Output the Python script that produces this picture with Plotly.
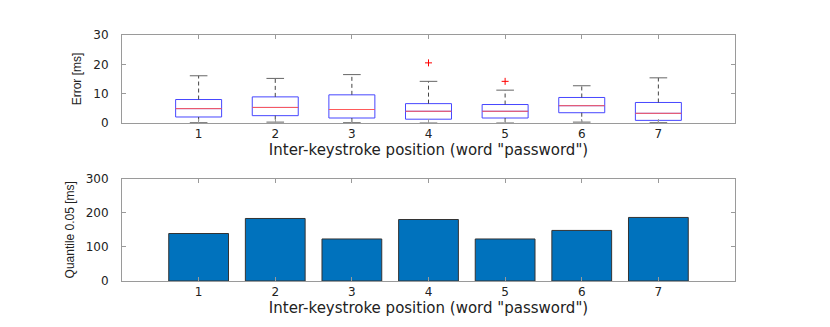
import plotly.graph_objects as go

positions = [1, 2, 3, 4, 5, 6, 7]
tick_labels = ["1", "2", "3", "4", "5", "6", "7"]

# Box plot statistics (error in ms)
q1 = [2.05, 2.5, 1.7, 1.3, 1.7, 3.5, 0.9]
median = [4.9, 5.3, 4.6, 4.0, 4.0, 5.9, 3.3]
q3 = [8.0, 8.9, 9.6, 6.6, 6.3, 8.7, 7.0]
whisker_low = [0.1, 0.3, 0.1, 0.0, 0.0, 0.3, 0.1]
whisker_high = [16.1, 15.2, 16.5, 14.2, 11.2, 12.7, 15.4]
outlier_x = [4, 5]
outlier_y = [20.5, 14.2]

# Quantile 0.05 (ms)
quantile = [139, 183, 123, 180, 123, 148, 186]

x_title = 'Inter-keystroke position (word "password")'

BOX_W = 0.6
CAP_W = 0.23

def seg_h(xs, ys, w):
    X, Y = [], []
    for x, y in zip(xs, ys):
        X += [x - w / 2, x + w / 2, None]
        Y += [y, y, None]
    return X, Y

def seg_v(xs, y0s, y1s):
    X, Y = [], []
    for x, a, b in zip(xs, y0s, y1s):
        X += [x, x, None]
        Y += [a, b, None]
    return X, Y

fig = go.Figure()

# Boxes
fig.add_trace(go.Box(
    x=positions, q1=q1, median=median, q3=q3,
    lowerfence=q1, upperfence=q3, width=BOX_W, whiskerwidth=0,
    line=dict(color="rgb(70,70,255)", width=1),
    fillcolor="rgba(0,0,0,0)", boxpoints=False,
    xaxis="x", yaxis="y", showlegend=False, hoverinfo="skip"))

# Whiskers (dashed)
wx, wy = seg_v(positions + positions, q3 + q1, whisker_high + whisker_low)
fig.add_trace(go.Scatter(x=wx, y=wy, mode="lines",
    line=dict(color="#444444", width=1, dash="4px,3px"),
    xaxis="x", yaxis="y", showlegend=False, hoverinfo="skip"))

# Caps
cx, cy = seg_h(positions + positions, whisker_high + whisker_low, CAP_W)
fig.add_trace(go.Scatter(x=cx, y=cy, mode="lines",
    line=dict(color="#666666", width=1),
    xaxis="x", yaxis="y", showlegend=False, hoverinfo="skip"))

# Medians
mx, my = seg_h(positions, median, BOX_W)
fig.add_trace(go.Scatter(x=mx, y=my, mode="lines",
    line=dict(color="rgb(255,90,90)", width=1),
    xaxis="x", yaxis="y", showlegend=False, hoverinfo="skip"))

# Outliers
fig.add_trace(go.Scatter(x=outlier_x, y=outlier_y, mode="markers",
    marker=dict(symbol="cross-thin", size=5, line=dict(color="red", width=1)),
    xaxis="x", yaxis="y", showlegend=False, hoverinfo="skip"))

# Bars
fig.add_trace(go.Bar(x=positions, y=quantile, width=0.78,
    marker=dict(color="#0072BD", line=dict(color="#333333", width=1)),
    xaxis="x2", yaxis="y2", showlegend=False, hoverinfo="skip"))

tick_font = dict(family="DejaVu Sans, Liberation Sans, Arial", size=12, color="#222222")
title_font = dict(family="DejaVu Sans, Liberation Sans, Arial", size=15, color="#222222")
ytitle_font = dict(family="Liberation Sans Narrow, Arial Narrow, Liberation Sans", size=12, color="#222222")

axis_common = dict(showline=True, linecolor="#9a9a9a", linewidth=1, mirror="ticks",
                   ticks="inside", ticklen=4, tickcolor="#9a9a9a", showgrid=False,
                   zeroline=False, tickfont=tick_font, automargin=False)

W, H, OFF = 830, 327, 8  # OFF: page body margin
def px_x(a, b):
    return [(a - OFF) / W, (b - OFF) / W]
def px_y(top, bottom):
    return [1 - (bottom - OFF) / H, 1 - (top - OFF) / H]

xdom = px_x(122, 735)

fig.update_layout(
    width=W, height=H,
    margin=dict(l=0, r=0, t=0, b=0),
    paper_bgcolor="white", plot_bgcolor="white",
    xaxis=dict(domain=xdom, anchor="y", range=[0, 8], tickvals=positions,
               ticktext=tick_labels, title=dict(text=x_title, font=title_font, standoff=0),
               **axis_common),
    yaxis=dict(domain=px_y(35, 123), anchor="x", range=[0, 30],
               tickvals=[0, 10, 20, 30], ticklabelstandoff=10,
               title=dict(text="Error [ms]", font=ytitle_font, standoff=9),
               **axis_common),
    xaxis2=dict(domain=xdom, anchor="y2", range=[0, 8], tickvals=positions,
                ticktext=tick_labels, title=dict(text=x_title, font=title_font, standoff=0),
                **axis_common),
    yaxis2=dict(domain=px_y(178.5, 281), anchor="x2", range=[0, 300],
                tickvals=[0, 100, 200, 300], ticklabelstandoff=10,
                title=dict(text="Quantile 0.05 [ms]", font=ytitle_font, standoff=8),
                **axis_common),
)

fig.write_html("out.html")
